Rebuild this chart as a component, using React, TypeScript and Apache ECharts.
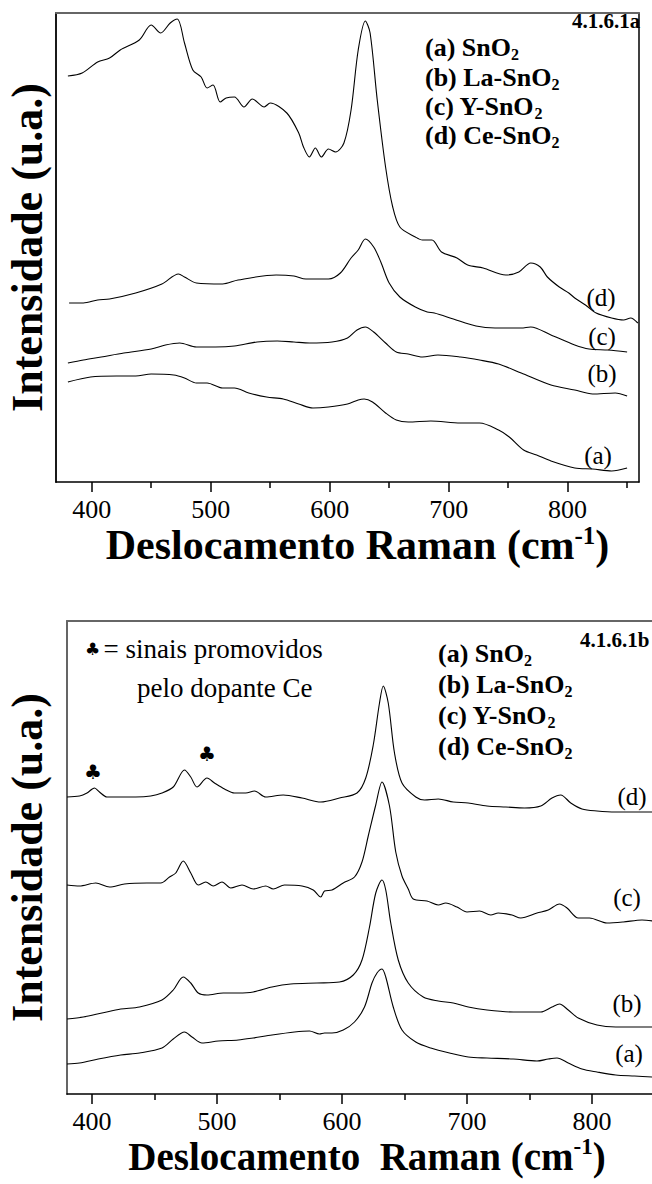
import React, { useEffect, useRef } from "react";
import * as echarts from "echarts";

// ---- Data (x: Raman shift cm-1, y: intensity, arbitrary units) ----
// Chart 4.1.6.1a
const aSnO2: [number, number][] = [[380,100],[399,105],[421,106],[437,106],[450,108],[469,107],[478,104],[488,99],[497,99],[510,94],[520,94],[532,89],[547,85],[561,83],[574,78],[586,74],[599,75],[615,78],[624,82],[629,83],[636,80],[647,69],[656,62],[666,60],[685,61],[710,59],[726,59],[742,52],[751,45],[763,32],[774,27],[786,21],[806,14],[821,13],[837,11],[850,14]];
const aLa: [number, number][] = [[380,119],[393,122],[408,125],[427,129],[450,133],[462,137],[474,139],[488,135],[504,135],[520,136],[539,140],[556,141],[570,140],[583,139],[602,140],[615,144],[623,152],[630,155],[637,150],[647,139],[656,130],[666,128],[678,125],[691,127],[710,125],[726,122],[742,118],[761,109],[786,97],[806,92],[821,88],[840,89],[850,86]];
const aY: [number, number][] = [[381,179],[393,179],[405,182],[415,183],[437,189],[459,198],[473,208],[478,205],[488,199],[510,198],[523,202],[555,207],[570,206],[580,203],[599,203],[609,209],[618,224],[624,232],[630,243],[637,235],[643,220],[650,199],[659,185],[672,175],[682,170],[688,169],[704,163],[723,156],[739,154],[761,154],[769,155],[786,147],[806,137],[818,133],[834,132],[850,130]];
const aCe: [number, number][] = [[380,406],[392,409],[405,420],[415,424],[424,432],[440,442],[450,457],[458,449],[466,459],[472,463],[478,439],[485,412],[492,405],[497,394],[502,397],[508,380],[513,384],[520,385],[528,375],[535,383],[545,375],[550,379],[564,369],[574,349],[578,335],[583,325],[588,334],[593,325],[599,333],[605,330],[612,339],[618,372],[624,432],[630,461],[634,449],[640,382],[647,315],[653,275],[659,255],[672,245],[678,242],[686,242],[694,230],[707,224],[716,217],[729,214],[748,207],[759,210],[769,219],[777,215],[783,205],[793,195],[801,189],[806,184],[815,177],[824,169],[837,164],[847,162],[853,164],[859,159]];

// Chart 4.1.6.1b
const bSnO2: [number, number][] = [[380,30],[390,31],[405,35],[423,39],[438,41],[456,46],[465,55],[474,62],[480,57],[488,51],[501,53],[517,54],[529,56],[544,59],[562,62],[574,63],[582,60],[586,61],[592,61],[601,64],[610,72],[618,87],[624,111],[628,121],[632,125],[635,117],[641,87],[648,64],[659,52],[671,46],[686,41],[701,37],[716,36],[737,35],[756,33],[765,35],[772,36],[781,31],[792,25],[804,22],[819,19],[834,18],[849,17]];
const bLa: [number, number][] = [[380,75],[393,77],[408,81],[423,85],[438,87],[456,94],[465,104],[473,117],[479,111],[485,101],[492,99],[505,101],[517,101],[529,102],[544,107],[559,110],[580,111],[598,112],[609,119],[616,134],[622,167],[627,201],[632,214],[635,204],[639,171],[645,134],[653,111],[665,97],[677,93],[689,91],[701,87],[716,84],[737,82],[759,82],[768,87],[774,90],[781,84],[789,76],[804,69],[819,67],[834,67],[849,67]];
const bY: [number, number][] = [[380,209],[390,208],[403,211],[414,207],[426,210],[444,211],[455,211],[462,217],[467,221],[473,233],[479,221],[485,209],[491,212],[497,208],[504,212],[511,206],[520,209],[529,205],[539,208],[545,205],[554,209],[568,208],[577,204],[583,197],[586,203],[592,204],[601,211],[610,217],[616,232],[621,258],[627,289],[632,312],[638,288],[643,242],[648,218],[653,205],[657,195],[668,193],[677,189],[683,191],[692,187],[700,182],[710,183],[719,179],[725,181],[736,179],[743,176],[756,181],[765,184],[774,190],[780,186],[789,176],[798,176],[812,171],[825,172],[840,174],[849,173]];
const bCe: [number, number][] = [[380,297],[390,298],[396,301],[402,306],[406,302],[412,297],[423,297],[435,297],[447,298],[456,301],[465,307],[474,324],[479,317],[484,307],[492,316],[498,311],[506,305],[514,301],[523,301],[530,303],[539,297],[553,299],[568,296],[583,292],[598,296],[612,301],[619,316],[625,349],[630,391],[633,408],[637,391],[642,341],[648,311],[659,297],[666,294],[677,295],[689,292],[701,291],[716,288],[731,287],[746,286],[759,288],[768,296],[775,299],[783,291],[792,285],[804,283],[819,282],[834,282],[849,282]];

const majorTicks = [400, 500, 600, 700, 800];
const minorTicks = [450, 550, 650, 750, 850];
const seriesLetters = ["(a)", "(b)", "(c)", "(d)"];
const sampleNames = ["SnO", "La-SnO", "Y-SnO", "Ce-SnO"];

const SERIF = "Liberation Serif";
const SYMBOL_FONT = "DejaVu Sans";

export default function App() {
  const ref = useRef<HTMLDivElement>(null);

  useEffect(() => {
    if (!ref.current) return;
    const chart = echarts.init(ref.current, null, { renderer: "svg" });

    const grids = [
      { left: 56, top: 13, width: 583, height: 469, containLabel: false, outerBoundsMode: "none" },
      { left: 67, top: 621, width: 600, height: 473, containLabel: false, outerBoundsMode: "none" },
    ];

    const xAxes: any[] = [];
    const yAxes: any[] = [];
    const xTitles = [
      "{t|Deslocamento Raman (cm}{p|-1}{t|)}",
      "{t|Deslocamento  Raman (cm}{p|-1}{t|)}",
    ];
    const xTitleSize = [42, 39];
    const xTitlePad = [[0, 0, 0, 20], [0, 0, 0, 0]];
    const xNameGap = [41, 40];
    const yNameGap = [11, 22];
    const yMax = [469, 473];
    grids.forEach((_, gi) => {
      xAxes.push({
        gridIndex: gi, type: "value", min: 370 + gi * 10, max: 860, position: "bottom",
        axisLine: { show: true, lineStyle: { color: "#000", width: 1.5 } },
        axisTick: { show: true, customValues: majorTicks, length: 10, lineStyle: { color: "#000", width: 1.5 } },
        axisLabel: { show: true, customValues: majorTicks, margin: 14, fontFamily: SERIF, fontSize: 26, color: "#000" },
        splitLine: { show: false },
        name: xTitles[gi], nameLocation: "middle", nameGap: xNameGap[gi],
        nameTextStyle: {
          padding: xTitlePad[gi],
          rich: {
            t: { fontFamily: SERIF, fontWeight: "bold", fontSize: xTitleSize[gi], color: "#000", lineHeight: 44 },
            p: { fontFamily: SERIF, fontWeight: "bold", fontSize: Math.round(xTitleSize[gi] * 0.6), color: "#000", lineHeight: 44, verticalAlign: "top" },
          },
        },
      });
      xAxes.push({
        gridIndex: gi, type: "value", min: 370 + gi * 10, max: 860, position: "bottom",
        axisLine: { show: false },
        axisTick: { show: true, customValues: minorTicks, length: 6, lineStyle: { color: "#000", width: 1.5 } },
        axisLabel: { show: false }, splitLine: { show: false },
      });
      xAxes.push({
        gridIndex: gi, type: "value", min: 370 + gi * 10, max: 860, position: "top",
        axisLine: { show: true, lineStyle: { color: "#666", width: 2 } },
        axisTick: { show: false }, axisLabel: { show: false }, splitLine: { show: false },
      });
      yAxes.push({
        gridIndex: gi, type: "value", min: 0, max: yMax[gi], position: "left",
        axisLine: { show: true, lineStyle: { color: gi === 0 ? "#000" : "#555", width: 1.8 } },
        axisTick: { show: false }, axisLabel: { show: false }, splitLine: { show: false },
        name: "Intensidade (u.a.)", nameLocation: "middle", nameGap: yNameGap[gi],
        nameTextStyle: { fontFamily: SERIF, fontWeight: "bold", fontSize: 44, color: "#000", lineHeight: 36 },
      });
      yAxes.push({
        gridIndex: gi, type: "value", min: 0, max: yMax[gi], position: "right",
        axisLine: { show: true, lineStyle: { color: "#000", width: 1.5 } },
        axisTick: { show: false }, axisLabel: { show: false }, splitLine: { show: false },
      });
    });

    const chartData = [
      [aSnO2, aLa, aY, aCe],
      [bSnO2, bLa, bY, bCe],
    ];
    const series: any[] = [];
    chartData.forEach((set, gi) => {
      set.forEach((d, si) => {
        series.push({
          type: "line", name: `${seriesLetters[si]} ${sampleNames[si]}2 (${gi === 0 ? "a" : "b"})`,
          xAxisIndex: gi * 3, yAxisIndex: gi * 2, data: d,
          showSymbol: false, symbol: "none", smooth: 0.3, silent: true,
          lineStyle: { color: "#000", width: 1.1 },
        });
      });
    });

    const legendRich = {
      m: { fontFamily: SERIF, fontWeight: "bold", fontSize: 26, fill: "#000", lineHeight: 30 },
      s: { fontFamily: SERIF, fontWeight: "bold", fontSize: 16, fill: "#000", lineHeight: 18, verticalAlign: "bottom" },
    };
    const legendBlock = (x: number, ys: number[]) =>
      sampleNames.map((n, i) => ({
        type: "text", x, y: ys[i],
        style: { text: `{m|${seriesLetters[i]} ${n}}{s|2}`, rich: legendRich, verticalAlign: "middle", align: "left" },
      }));
    const letterLabel = (t: string, x: number, y: number) => ({
      type: "text", x, y,
      style: { text: t, fontFamily: SERIF, fontSize: 25, fill: "#000", align: "center", verticalAlign: "middle" },
    });
    const club = (x: number, y: number) => ({
      type: "text", x, y,
      style: { text: "\u2663", fontFamily: SYMBOL_FONT, fontSize: 20, fill: "#000", align: "center", verticalAlign: "middle" },
    });

    const graphics: any[] = [
      ...legendBlock(425, [47, 77, 106, 135]),
      ...legendBlock(438, [653, 684, 715, 746]),
      { type: "text", x: 572, y: 21, style: { text: "4.1.6.1a", fontFamily: SERIF, fontWeight: "bold", fontSize: 21, fill: "#000", verticalAlign: "middle" } },
      { type: "text", x: 580, y: 640, style: { text: "4.1.6.1b", fontFamily: SERIF, fontWeight: "bold", fontSize: 21, fill: "#000", verticalAlign: "middle" } },
      letterLabel("(d)", 601, 297),
      letterLabel("(c)", 602, 336),
      letterLabel("(b)", 602, 373),
      letterLabel("(a)", 598, 455),
      letterLabel("(d)", 632, 796),
      letterLabel("(c)", 627, 897),
      letterLabel("(b)", 627, 1003),
      letterLabel("(a)", 629, 1053),
      {
        type: "text", x: 85, y: 649,
        style: {
          text: "{c|\u2663} {t|= sinais promovidos}",
          rich: {
            c: { fontFamily: SYMBOL_FONT, fontSize: 17, fill: "#000" },
            t: { fontFamily: SERIF, fontSize: 27, fill: "#000" },
          },
          verticalAlign: "middle",
        },
      },
      { type: "text", x: 137, y: 688, style: { text: "pelo dopante Ce", fontFamily: SERIF, fontSize: 27, fill: "#000", verticalAlign: "middle" } },
      club(93, 772),
      club(207, 754),
    ];

    chart.setOption({
      animation: false,
      backgroundColor: "#fff",
      grid: grids,
      xAxis: xAxes,
      yAxis: yAxes,
      series,
      graphic: graphics,
    });

    return () => chart.dispose();
  }, []);

  return (
    <div
      ref={ref}
      style={{ position: "absolute", left: 0, top: 0, width: 652, height: 1184 }}
    />
  );
}
